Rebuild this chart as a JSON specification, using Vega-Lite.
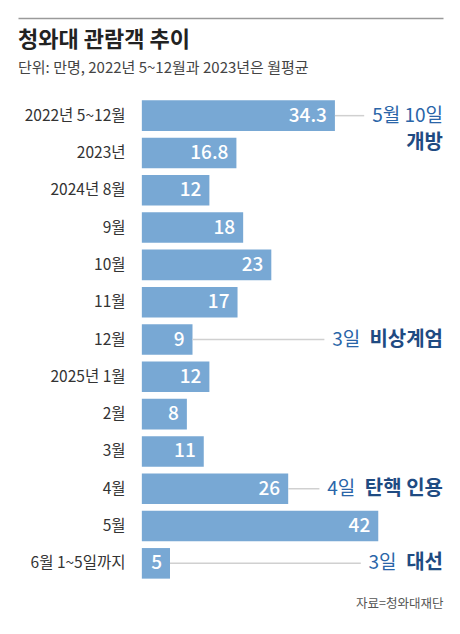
{
  "$schema": "https://vega.github.io/schema/vega-lite/v6.json",
  "autosize": "none",
  "width": 425,
  "height": 485,
  "padding": {"left": 18, "top": 97, "right": 17, "bottom": 52},
  "background": "white",
  "config": {"font": "Noto Sans CJK KR", "view": {"stroke": null}},
  "title": {
    "text": "청와대 관람객 추이",
    "subtitle": "단위: 만명, 2022년 5~12월과 2023년은 월평균",
    "anchor": "start",
    "frame": "group",
    "fontSize": 22,
    "fontWeight": "bold",
    "color": "#222222",
    "subtitleFontSize": 15,
    "subtitleColor": "#444444",
    "subtitlePadding": 9,
    "offset": 0,
    "dy": 59
  },
  "data": {
    "values": [
      {"period": "2022년 5~12월", "value": 34.3, "date": "5월 10일", "event": "개방"},
      {"period": "2023년", "value": 16.8},
      {"period": "2024년 8월", "value": 12},
      {"period": "9월", "value": 18},
      {"period": "10월", "value": 23},
      {"period": "11월", "value": 17},
      {"period": "12월", "value": 9, "date": "3일", "event": "비상계엄"},
      {"period": "2025년 1월", "value": 12},
      {"period": "2월", "value": 8},
      {"period": "3월", "value": 11},
      {"period": "4월", "value": 26, "date": "4일", "event": "탄핵 인용"},
      {"period": "5월", "value": 42},
      {"period": "6월 1~5일까지", "value": 5, "date": "3일", "event": "대선"}
    ]
  },
  "encoding": {
    "y": {
      "field": "period",
      "type": "nominal",
      "sort": null,
      "scale": {"paddingInner": 0.18, "paddingOuter": 0.09},
      "axis": {
        "title": null,
        "domain": false,
        "ticks": false,
        "offset": -124,
        "labelPadding": 17,
        "labelFontSize": 15.5,
        "labelColor": "#333333"
      }
    }
  },
  "layer": [
    {
      "mark": {"type": "bar", "color": "#78a8d4"},
      "encoding": {
        "x": {
          "field": "value",
          "type": "quantitative",
          "scale": {"domain": [-22, 53.5], "nice": false, "zero": false},
          "axis": {
            "orient": "top",
            "offset": 79,
            "title": null,
            "labels": false,
            "ticks": false,
            "grid": false,
            "domain": true,
            "domainColor": "#9a9a9a",
            "domainWidth": 1.5
          }
        }
      }
    },
    {
      "mark": {"type": "text", "align": "right", "baseline": "middle", "dx": -8, "color": "white", "fontSize": 19, "fontWeight": 500},
      "encoding": {
        "x": {
          "field": "value",
          "type": "quantitative",
          "axis": {
            "orient": "bottom",
            "title": "자료=청와대재단",
            "titleAnchor": "end",
            "titleFontSize": 12.5,
            "titleFontWeight": "normal",
            "titleColor": "#555555",
            "titlePadding": 15,
            "domain": false,
            "labels": false,
            "ticks": false,
            "grid": false
          }
        },
        "text": {"field": "value", "type": "nominal"}
      }
    },
    {
      "transform": [
        {"filter": "isValid(datum.date)"},
        {"calculate": "length(datum.date) - length(replace(datum.date, regexp('[0-9]', 'g'), ''))", "as": "nDig"},
        {"calculate": "length(datum.date) - length(replace(datum.date, regexp(' ', 'g'), ''))", "as": "nSp"},
        {"calculate": "length(datum.event) - length(replace(datum.event, regexp(' ', 'g'), ''))", "as": "eSp"},
        {"calculate": "17.3 * (length(datum.date) - datum.nDig - datum.nSp) + 10.5 * datum.nDig + 4.7 * datum.nSp", "as": "dW"},
        {"calculate": "18.2 * (length(datum.event) - datum.eSp) + 5 * datum.eSp", "as": "eW"},
        {"calculate": "datum.value + (datum.dW + datum.eW + 40) / 5.629 > 53.5", "as": "wrap"},
        {"calculate": "53.5 - (datum.wrap ? 0 : datum.eW + 10) / 5.629", "as": "dateEnd"},
        {"calculate": "datum.dateEnd - (datum.dW + 8) / 5.629", "as": "lineEnd"}
      ],
      "layer": [
        {
          "mark": {"type": "rule", "color": "#d0d0d0", "strokeWidth": 1.5},
          "encoding": {
            "x": {"field": "value", "type": "quantitative", "axis": null},
            "x2": {"field": "lineEnd"}
          }
        },
        {
          "mark": {"type": "text", "align": "right", "baseline": "middle", "color": "#2a65a8", "fontSize": 19},
          "encoding": {
            "x": {"field": "dateEnd", "type": "quantitative", "axis": null},
            "text": {"field": "date"}
          }
        },
        {
          "transform": [{"filter": "!datum.wrap"}],
          "mark": {"type": "text", "align": "right", "baseline": "middle", "color": "#1f4b82", "fontSize": 20, "fontWeight": "bold"},
          "encoding": {
            "x": {"value": "width"},
            "text": {"field": "event"}
          }
        },
        {
          "transform": [{"filter": "datum.wrap"}],
          "mark": {"type": "text", "align": "right", "baseline": "middle", "dy": 27, "color": "#1f4b82", "fontSize": 20, "fontWeight": "bold"},
          "encoding": {
            "x": {"value": "width"},
            "text": {"field": "event"}
          }
        }
      ]
    }
  ],
  "resolve": {"axis": {"x": "independent"}}
}
